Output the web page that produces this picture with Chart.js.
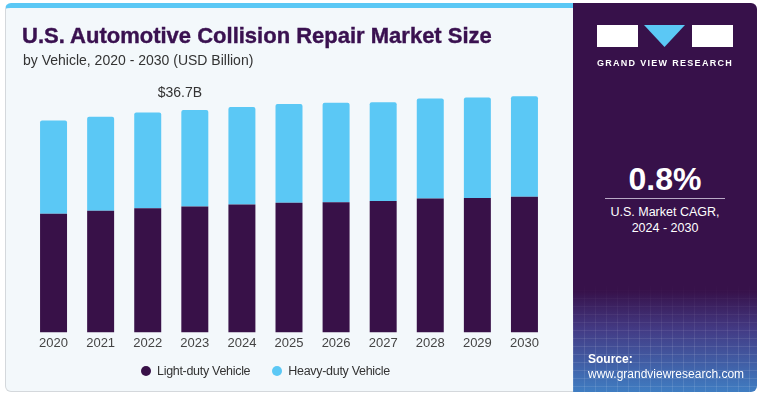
<!DOCTYPE html>
<html>
<head>
<meta charset="utf-8">
<script src="https://cdn.jsdelivr.net/npm/chart.js@4.4.1/dist/chart.umd.min.js"></script>
<style>
  body { margin: 0; background: #fff; font-family: "Liberation Sans", Arial, sans-serif; }
  #wrap { position: relative; width: 762px; height: 397px; overflow: hidden; background: #fff; }
  #left {
    position: absolute; left: 5px; top: 3px; width: 569px; height: 389px;
    box-sizing: border-box; background: #f3f8fb;
    border: 1px solid #d4d8dc; border-top: 5px solid #5bc8f5;
    border-radius: 6px 0 0 6px;
  }
  #myChart { position: absolute; left: 0; top: 0; }
  .txt { position: absolute; white-space: nowrap; }
  #title { left: 22px; top: 23px; font-size: 22px; font-weight: bold; color: #3a1150; line-height: 26px; -webkit-text-stroke: 0.4px #3a1150; }
  #subtitle { left: 23px; top: 51px; font-size: 14px; color: #333; line-height: 18px; }
  #legend { position: absolute; left: 141px; top: 363px; font-size: 12.5px; color: #333; letter-spacing: -0.3px; }
  #legend span.item { display: inline-block; margin-right: 22px; line-height: 16px; }
  #legend i { display: inline-block; width: 10px; height: 10px; border-radius: 50%; margin-right: 6px; vertical-align: -1px; }
  #right {
    position: absolute; left: 573px; top: 3px; width: 184px; height: 389px;
    border-radius: 0 6px 6px 0; overflow: hidden;
    background: linear-gradient(to bottom, #37114a 0%, #37114a 74%, #433b85 84%, #3f7dc2 100%);
  }
  #grid {
    position: absolute; left: 0; right: 0; bottom: 0; height: 110px;
    background:
      repeating-linear-gradient(90deg, rgba(255,255,255,0.10) 0 1px, transparent 1px 11px),
      repeating-linear-gradient(180deg, rgba(255,255,255,0.10) 0 1px, transparent 1px 8px);
    -webkit-mask-image: linear-gradient(to bottom, transparent 0%, #000 60%);
    mask-image: linear-gradient(to bottom, transparent 0%, #000 60%);
  }
  .box { position: absolute; background: #fff; top: 22px; height: 22px; width: 41px; }
  #tri { position: absolute; top: 22px; left: 71px; width: 41px; height: 22px; background: #5bc8f5; clip-path: polygon(0 0, 100% 0, 50% 100%); }
  #brand { left: 0; width: 184px; text-align: center; top: 54px; font-size: 9px; font-weight: bold; color: #fff; letter-spacing: 1.3px; line-height: 12px; }
  #cagr { left: 0; width: 184px; text-align: center; top: 158px; font-size: 32px; font-weight: bold; color: #fff; line-height: 36px; }
  #rule { position: absolute; left: 32px; width: 120px; top: 195px; height: 1px; background: #b9a9c6; }
  .cap { left: 0; width: 184px; text-align: center; font-size: 12.5px; color: #fff; line-height: 16px; }
  #src1 { left: 15px; top: 348px; font-size: 12px; font-weight: bold; color: #fff; line-height: 16px; }
  #src2 { left: 15px; top: 363px; font-size: 12px; color: #fff; line-height: 16px; }
</style>
</head>
<body>
<div id="wrap">
  <div id="left"></div>
  <canvas id="myChart" width="572" height="397"></canvas>
  <div class="txt" id="title">U.S. Automotive Collision Repair Market Size</div>
  <div class="txt" id="subtitle">by Vehicle, 2020 - 2030 (USD Billion)</div>
  <div id="legend"></div>
  <div id="right">
    <div id="grid"></div>
    <div class="box" style="left:24px"></div>
    <div id="tri"></div>
    <div class="box" style="left:119px"></div>
    <div class="txt" id="brand">GRAND VIEW RESEARCH</div>
    <div class="txt" id="cagr">0.8%</div>
    <div id="rule"></div>
    <div class="txt cap" style="top:201px">U.S. Market CAGR,</div>
    <div class="txt cap" style="top:217px">2024 - 2030</div>
    <div class="txt" id="src1">Source:</div>
    <div class="txt" id="src2">www.grandviewresearch.com</div>
  </div>
</div>
<script>
var years = ["2020", "2021", "2022", "2023", "2024", "2025", "2026", "2027", "2028", "2029", "2030"]
var lightDuty = [19.6, 20.1, 20.5, 20.8, 21.1, 21.4, 21.5, 21.7, 22.1, 22.2, 22.4]
var heavyDuty = [15.4, 15.5, 15.8, 15.9, 16.1, 16.3, 16.4, 16.3, 16.5, 16.6, 16.6]
var seriesNames = ["Light-duty Vehicle", "Heavy-duty Vehicle"]
var seriesColors = ["#381148", "#5bc8f5"]
var calloutIndex = 3
var calloutText = "$36.7B"

// etiqueta sobre la barra 2023
var calloutPlugin = {
    id: "callout",
    afterDatasetsDraw: function(chart) {
        var bar = chart.getDatasetMeta(1).data[calloutIndex];
        var ctx = chart.ctx;
        ctx.save();
        ctx.font = "14px 'Liberation Sans', Arial, sans-serif";
        ctx.fillStyle = "#333";
        ctx.textAlign = "center";
        ctx.textBaseline = "middle";
        ctx.fillText(calloutText, bar.x - 15, bar.y - 17);
        ctx.restore();
    }
};

var chart = new Chart("myChart", {
    type: "bar",
    data: {
      labels: years,
      datasets: [{
        label: seriesNames[0],
        data: lightDuty,
        backgroundColor: seriesColors[0],
        borderRadius: 0
      }, {
        label: seriesNames[1],
        data: heavyDuty,
        backgroundColor: seriesColors[1],
        borderRadius: 2
      }]
    },
    options: {
      responsive: false,
      animation: false,
      layout: { padding: { left: 30, right: 24, top: 78, bottom: 43 } },
      datasets: { bar: { categoryPercentage: 1, barPercentage: 0.573 } },
      scales: {
        x: {
          stacked: true,
          grid: { display: false, drawTicks: false },
          border: { display: false },
          ticks: {
            color: "#444",
            padding: 3,
            font: { size: 13, family: "'Liberation Sans', Arial, sans-serif" }
          }
        },
        y: {
          stacked: true,
          display: false,
          min: 0,
          max: 42
        }
      },
      plugins: {
        legend: { display: false },
        tooltip: { enabled: false }
      }
    },
    plugins: [calloutPlugin]
});

function armaLeyenda() {
    var leyenda = document.getElementById("legend");
    for (var i = 0; i < seriesNames.length; i++) {
        var item = document.createElement("span");
        item.className = "item";
        var punto = document.createElement("i");
        punto.style.background = seriesColors[i];
        item.appendChild(punto);
        item.appendChild(document.createTextNode(seriesNames[i]));
        leyenda.appendChild(item);
    }
}
armaLeyenda();
</script>
</body>
</html>
